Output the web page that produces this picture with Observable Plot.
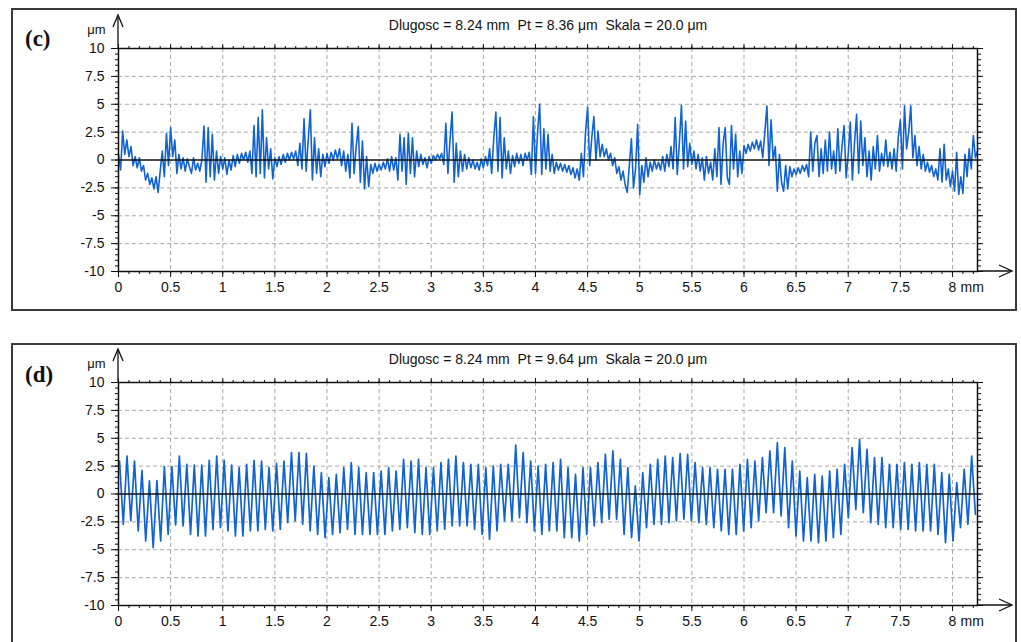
<!DOCTYPE html>
<html><head><meta charset="utf-8">
<script src="https://cdn.jsdelivr.net/npm/d3@7"></script>
<script src="https://cdn.jsdelivr.net/npm/@observablehq/plot@0.6"></script>
<style>
body{margin:0;background:#fff;width:1021px;height:642px;overflow:hidden;position:relative;font-family:"Liberation Sans",Arial,sans-serif;}
.panel{position:absolute;left:11px;width:1006px;height:303px;}
.panel svg{position:absolute;left:0;top:0;}
.frame{position:absolute;left:0;top:0;width:1006px;height:303px;border:2px solid #3a3a3a;box-sizing:border-box;pointer-events:none;}
.tag{position:absolute;font-family:"Liberation Serif","DejaVu Serif",serif;font-weight:bold;font-size:23px;line-height:1;color:#111;}
</style></head><body>
<div id="pc" class="panel" style="top:8px"></div>
<div id="pd" class="panel" style="top:343px"></div>
<script>
// ---- axis ticks ----
const xTicks = [0,0.5,1,1.5,2,2.5,3,3.5,4,4.5,5,5.5,6,6.5,7,7.5,8];
const xMinor = d3.range(0, 83).map(i => i / 10);
const yTicks = [-10,-7.5,-5,-2.5,0,2.5,5,7.5,10];
const yMinor = d3.range(-20, 21).map(i => i / 2);

// ---- titles ----
const titleC = "Dlugosc = 8.24 mm  Pt = 8.36 μm  Skala = 20.0 μm";
const titleD = "Dlugosc = 8.24 mm  Pt = 9.64 μm  Skala = 20.0 μm";
const profileLength = 8.24; // mm

// ---- profile (c): heights in μm, sampled every 0.02 mm ----
const profileC = [
 0.5,-0.9,2.6,0.5,1.8,0.3,1.2,-0.5,0.3,-0.7,
 0.2,-1.0,-0.5,-1.8,-1.2,-2.2,-1.6,-2.6,-1.5,-2.9,
 -1.0,0.8,-1.5,2.4,-0.5,2.9,0.3,1.8,-1.2,0.5,
 -0.8,0.2,-1.0,0.1,-0.6,-1.2,0.2,-0.9,-0.3,-1.0,
 0.0,3.05,-2.0,2.9,-1.5,2.3,-1.8,0.8,-1.2,0.3,
 -0.8,0.2,-1.3,0.0,-0.9,0.4,-0.6,0.5,-0.3,0.6,
 0.0,0.7,-0.2,0.8,-1.2,3.1,-1.5,3.8,-1.2,4.5,
 -1.6,2.0,-0.8,1.0,-1.7,0.2,-0.6,0.3,-0.4,0.5,
 -0.2,0.6,0.0,0.7,0.1,0.8,-0.5,1.5,-0.8,3.7,
 -1.0,1.8,4.5,-1.8,2.0,-1.2,1.0,-1.5,0.5,-0.6,
 0.6,-0.3,0.7,0.0,0.9,0.1,1.0,-0.5,0.8,-1.0,
 0.5,-1.6,3.3,-1.2,1.2,3.0,-2.0,1.7,-2.6,0.3,
 -2.4,-0.4,-1.2,-0.3,-1.0,-0.4,-0.9,-0.2,-0.8,0.1,
 -1.0,0.3,-0.9,0.2,-1.8,2.3,-1.0,2.0,-2.2,2.4,
 -1.2,2.0,-1.5,0.8,-0.6,0.5,-0.4,0.2,-0.7,0.3,
 -0.3,0.4,0.0,0.5,0.1,0.6,-0.4,3.3,-1.2,1.8,
 4.3,-2.0,1.5,-1.5,0.8,-1.0,0.5,-0.8,0.2,-0.7,
 0.0,-0.8,-0.2,-0.9,0.1,-0.7,0.3,-0.5,1.0,-1.2,
 2.0,4.3,-1.0,3.8,-1.6,2.0,-0.8,0.8,-1.2,0.4,
 -0.6,0.6,-0.3,0.5,-0.5,0.6,0.0,0.7,-1.3,3.9,
 -1.2,2.5,5.0,-1.3,2.8,-0.8,2.3,-1.0,0.5,-1.2,
 -0.2,-0.9,-0.3,-1.0,-0.4,-1.1,-0.5,-1.3,-0.7,-1.6,
 -0.8,-1.8,0.6,-1.5,2.5,4.75,-0.5,2.0,3.9,0.0,
 2.6,0.3,1.4,0.3,1.0,0.0,0.6,-0.5,0.2,-1.2,
 -0.6,-1.8,-1.0,-2.2,-2.9,-0.5,1.9,-2.5,-0.8,3.2,
 -3.1,-0.5,-2.0,0.2,-1.5,-0.2,-1.0,0.0,-0.8,-0.2,
 -0.9,0.3,-1.0,0.5,-0.6,1.2,-0.8,3.8,-1.3,1.5,
 4.9,-0.8,3.5,-0.6,1.5,-0.4,0.8,-0.8,0.5,-1.0,
 0.2,-1.8,0.3,-1.2,-0.2,-1.8,1.0,-1.5,2.9,-2.2,
 1.5,2.9,-1.6,-2.2,3.1,-0.8,2.3,-1.5,0.8,-1.2,
 1.3,0.6,1.4,0.8,1.6,1.0,1.8,0.9,1.7,0.2,
 2.5,4.85,-0.5,3.6,0.0,1.2,-2.8,0.5,-2.0,-2.8,
 -0.5,-2.6,-0.6,-1.5,-0.8,-1.3,-0.7,-1.2,-0.5,-1.0,
 -0.4,-1.5,2.5,-1.0,1.5,2.2,-1.5,1.0,-1.2,1.8,
 -1.0,2.5,-0.8,0.8,-1.2,2.8,-1.0,1.2,3.1,-1.6,
 0.5,3.4,-1.8,1.5,4.1,-1.2,3.5,-0.5,2.0,-1.5,
 0.8,-1.8,1.2,-0.8,2.2,-1.0,0.6,-0.5,1.8,-0.6,
 0.7,-0.8,1.0,-1.0,2.0,3.6,-0.8,4.85,1.0,2.5,
 4.85,0.2,2.2,-0.5,1.2,-0.8,0.5,-1.0,-0.2,-1.1,
 -0.5,-1.5,-0.8,-1.8,1.0,-2.0,1.4,-1.8,-0.8,-2.4,
 -1.0,-2.8,0.7,-3.1,-1.5,-3.0,0.5,-1.5,1.0,-0.8,
 2.2,0.2,0.8
];

// ---- profile (d): successive crests and troughs in μm ----
const crestsD = [
 2.96,3.41,2.96,2.12,1.17,1.2,2.45,2.45,3.41,2.66,
 2.6,2.6,3.02,3.41,3.02,2.6,2.36,2.66,3.02,2.96,
 2.36,2.75,2.96,3.71,3.71,3.65,2.51,1.91,1.46,1.76,
 2.36,2.81,2.36,1.91,1.91,2.06,2.36,2.06,3.11,2.96,
 3.11,2.36,2.36,2.81,3.11,3.41,2.81,2.66,2.66,2.36,
 2.51,2.66,2.66,4.39,3.71,2.96,2.51,2.66,2.81,3.11,
 2.36,1.76,2.36,2.36,2.81,3.56,3.86,3.11,2.36,0.72,
 1.91,2.66,3.11,3.41,3.26,3.62,3.56,2.81,2.36,2.36,
 2.21,2.21,2.21,2.66,3.11,2.96,3.26,3.86,4.6,4.16,
 2.96,2.06,1.46,1.76,1.61,2.06,2.21,2.66,4.16,4.9,
 4.01,3.26,3.26,2.66,2.66,2.81,2.66,2.81,2.66,2.66,
 1.91,1.76,1.02,2.21,3.41
];
const troughsD = [
 -2.72,-2.42,-3.32,-4.22,-4.81,-4.22,-3.62,-2.78,-2.87,-3.62,
 -3.77,-3.77,-3.17,-3.02,-3.32,-3.77,-3.77,-3.32,-3.32,-3.17,
 -3.32,-3.17,-2.57,-2.42,-2.72,-3.32,-3.62,-3.92,-3.62,-3.47,
 -3.17,-3.62,-3.62,-3.62,-3.62,-3.62,-3.32,-3.17,-3.02,-3.47,
 -3.62,-3.62,-3.32,-3.17,-2.87,-2.87,-2.87,-3.17,-3.62,-4.07,
 -3.32,-2.42,-2.42,-2.12,-2.57,-3.32,-3.62,-3.32,-3.32,-3.92,
 -3.92,-4.22,-3.62,-2.87,-2.57,-2.27,-2.27,-3.62,-3.92,-4.22,
 -3.02,-2.72,-2.72,-2.57,-2.42,-2.27,-2.42,-2.57,-2.72,-3.02,
 -3.32,-3.62,-3.62,-3.32,-3.02,-2.42,-1.67,-1.67,-1.97,-3.02,
 -3.77,-4.22,-4.22,-4.36,-4.22,-3.92,-3.62,-2.12,-1.38,-1.67,
 -2.57,-2.72,-3.02,-3.02,-3.17,-3.17,-3.32,-3.32,-3.32,-3.62,
 -4.36,-4.22,-3.02,-2.72,-1.82
];

// ---- tables for Plot ----
const dataC = profileC.map((v, i) => ({x: i * profileLength / (profileC.length - 1), y: v}));
const seqD = crestsD.flatMap((c, i) => [c, troughsD[i]]);
const dataD = seqD.map((v, i) => ({x: 0.01 + i * (profileLength - 0.03) / (seqD.length - 1), y: v}));

const lineColor = "#1263d2";

function makePanel(el, data, title, lineWidth, mTop, mBottom, tag, tagTop) {
  const chart = Plot.plot({
    width: 1006, height: 303,
    marginLeft: 107, marginRight: 40, marginTop: mTop, marginBottom: mBottom,
    style: {fontFamily: "'Liberation Sans', Arial, sans-serif", fontSize: "14px", color: "#111", background: "transparent", overflow: "visible"},
    x: {domain: [0, profileLength]},
    y: {domain: [-10, 10]},
    marks: [
      Plot.gridX(xTicks.slice(1), {stroke: "#a8a8a8", strokeOpacity: 1, strokeDasharray: "4,3"}),
      Plot.gridY(yTicks.filter(v => v !== 0 && Math.abs(v) !== 10), {stroke: "#a8a8a8", strokeOpacity: 1, strokeDasharray: "4,3"}),
      Plot.line(data, {x: "x", y: "y", stroke: lineColor, strokeWidth: lineWidth}),
      Plot.ruleY([0], {stroke: "#111", strokeWidth: 1.5}),
      Plot.frame({stroke: "#111", strokeWidth: 1.5}),
      Plot.axisX(xTicks, {anchor: "bottom", tickSize: 6, tickPadding: 5, label: null, tickFormat: d => String(d)}),
      Plot.axisX(xMinor, {anchor: "bottom", tickSize: 3, fill: "none", label: null}),
      Plot.axisX(xTicks, {anchor: "top", tickSize: 5, fill: "none", label: null}),
      Plot.axisX(xMinor, {anchor: "top", tickSize: 3, fill: "none", label: null}),
      Plot.axisY(yTicks, {anchor: "left", tickSize: 7, tickPadding: 7, label: null, tickFormat: d => String(d)}),
      Plot.axisY(yMinor, {anchor: "left", tickSize: 3, fill: "none", label: null}),
      Plot.axisY(yTicks, {anchor: "right", tickSize: 5, fill: "none", label: null}),
      Plot.axisY(yMinor, {anchor: "right", tickSize: 3, fill: "none", label: null}),
      Plot.text([title], {frameAnchor: "top", dy: -28, fontSize: 14}),
      Plot.text(["μm"], {frameAnchor: "top-left", dx: -13, dy: -24, textAnchor: "end", fontSize: 13}),
      Plot.text([{x: 8, t: "mm"}], {x: "x", text: "t", frameAnchor: "bottom", lineAnchor: "top", dy: 11, dx: 8, textAnchor: "start", fontSize: 14})
    ]
  });
  const sx = chart.scale("x"), sy = chart.scale("y");
  const svg = d3.select(chart);
  const x0 = sx.apply(0), yTop = sy.apply(10), yBot = sy.apply(-10), xEnd = sx.apply(profileLength);
  const g = svg.append("g").attr("fill", "none").attr("stroke", "#111").attr("stroke-width", 1.3);
  // vertical axis arrow
  g.append("line").attr("x1", x0).attr("x2", x0).attr("y1", yTop).attr("y2", yTop - 33);
  g.append("path").attr("d", `M${x0 - 5},${yTop - 21}L${x0},${yTop - 33}L${x0 + 5},${yTop - 21}`);
  // horizontal axis arrow
  const tip = xEnd + 35;
  g.append("line").attr("x1", xEnd).attr("x2", tip).attr("y1", yBot).attr("y2", yBot);
  g.append("path").attr("d", `M${tip - 13},${yBot - 6}L${tip},${yBot}L${tip - 13},${yBot + 6}`);
  const host = document.getElementById(el);
  host.appendChild(chart);
  const fr = document.createElement("div"); fr.className = "frame"; host.appendChild(fr);
  const t = document.createElement("div"); t.className = "tag"; t.textContent = tag;
  t.style.left = "14px"; t.style.top = tagTop + "px"; host.appendChild(t);
}

makePanel("pc", dataC, titleC, 1.6, 40, 40, "(c)", 19);
makePanel("pd", dataD, titleD, 1.7, 39, 41, "(d)", 20);
</script>
</body></html>
